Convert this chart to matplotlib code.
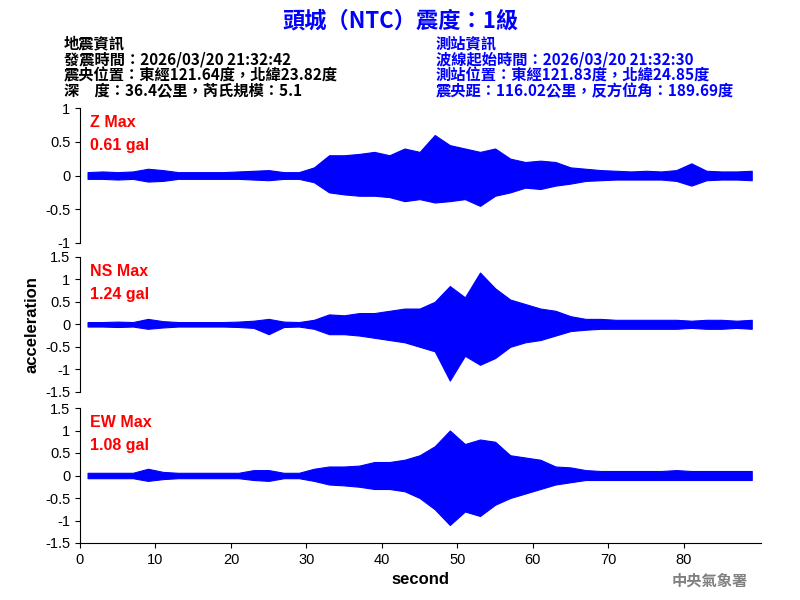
import numpy as np
import matplotlib.pyplot as plt

plt.rcParams['font.family'] = ['Noto Sans CJK TC', 'DejaVu Sans']

# 2-second bins, envelope (gal), value at the bin centre
t_bins = np.arange(1, 90, 2)
z_up = [0.05, 0.06, 0.05, 0.06, 0.10, 0.08, 0.05, 0.05, 0.05, 0.05, 0.06, 0.07, 0.08, 0.05, 0.05,
        0.12, 0.30, 0.30, 0.32, 0.35, 0.30, 0.40, 0.35, 0.60, 0.45, 0.40, 0.35, 0.40, 0.25, 0.20,
        0.22, 0.20, 0.12, 0.10, 0.08, 0.07, 0.06, 0.07, 0.06, 0.08, 0.18, 0.07, 0.06, 0.06, 0.07]
z_lo = [-0.05, -0.05, -0.06, -0.05, -0.09, -0.08, -0.05, -0.05, -0.05, -0.05, -0.05, -0.06, -0.07, -0.05, -0.05,
        -0.10, -0.25, -0.28, -0.30, -0.30, -0.32, -0.38, -0.35, -0.40, -0.38, -0.35, -0.45, -0.30, -0.25, -0.18,
        -0.20, -0.15, -0.12, -0.08, -0.07, -0.06, -0.06, -0.06, -0.06, -0.08, -0.15, -0.07, -0.06, -0.06, -0.07]
ns_up = [0.05, 0.05, 0.06, 0.05, 0.12, 0.07, 0.05, 0.05, 0.05, 0.05, 0.06, 0.08, 0.12, 0.06, 0.05,
         0.10, 0.22, 0.20, 0.25, 0.25, 0.30, 0.35, 0.35, 0.50, 0.85, 0.60, 1.15, 0.80, 0.55, 0.45,
         0.35, 0.30, 0.18, 0.12, 0.12, 0.10, 0.10, 0.10, 0.10, 0.10, 0.08, 0.10, 0.10, 0.08, 0.10]
ns_lo = [-0.05, -0.05, -0.06, -0.05, -0.10, -0.07, -0.05, -0.05, -0.05, -0.05, -0.06, -0.08, -0.22, -0.06, -0.05,
         -0.10, -0.22, -0.22, -0.25, -0.30, -0.35, -0.40, -0.50, -0.60, -1.25, -0.70, -0.90, -0.75, -0.50, -0.40,
         -0.35, -0.25, -0.15, -0.12, -0.10, -0.10, -0.10, -0.10, -0.10, -0.10, -0.08, -0.10, -0.10, -0.08, -0.10]
ew_up = [0.06, 0.06, 0.06, 0.06, 0.15, 0.08, 0.06, 0.06, 0.06, 0.06, 0.06, 0.12, 0.12, 0.06, 0.06,
         0.15, 0.20, 0.20, 0.22, 0.30, 0.30, 0.35, 0.45, 0.65, 1.00, 0.70, 0.80, 0.75, 0.45, 0.40,
         0.35, 0.20, 0.18, 0.12, 0.10, 0.10, 0.10, 0.10, 0.10, 0.12, 0.10, 0.10, 0.10, 0.10, 0.10]
ew_lo = [-0.06, -0.06, -0.06, -0.06, -0.12, -0.08, -0.06, -0.06, -0.06, -0.06, -0.06, -0.10, -0.12, -0.06, -0.06,
         -0.12, -0.20, -0.22, -0.25, -0.30, -0.30, -0.35, -0.50, -0.75, -1.10, -0.80, -0.90, -0.65, -0.50, -0.40,
         -0.30, -0.20, -0.15, -0.10, -0.10, -0.10, -0.10, -0.10, -0.10, -0.10, -0.10, -0.10, -0.10, -0.10, -0.10]

panels = [("Z Max", "0.61 gal", z_up, z_lo, 1, [-1, -0.5, 0, 0.5, 1]),
          ("NS Max", "1.24 gal", ns_up, ns_lo, 1.5, [-1.5, -1, -0.5, 0, 0.5, 1, 1.5]),
          ("EW Max", "1.08 gal", ew_up, ew_lo, 1.5, [-1.5, -1, -0.5, 0, 0.5, 1, 1.5])]
boxes = [0.595, 0.347, 0.095]
lat = 'Liberation Sans'

fig = plt.figure(figsize=(8, 6), dpi=100)
for i, (name, val, up, lo, lim, ticks) in enumerate(panels):
    ax = fig.add_axes([0.1, boxes[i], 0.851, 0.225])
    ax.fill_between(t_bins, up, lo, color='blue', linewidth=0.8, edgecolor='blue')
    ax.set_xlim(0, 90.2)
    ax.set_ylim(-lim, lim)
    ax.set_yticks(ticks)
    ax.set_yticklabels([f"{v:g}" for v in ticks], fontsize=10.5, family=lat)
    ax.spines[['top', 'right']].set_visible(False)
    ax.text(0.015, 0.95, name, transform=ax.transAxes, color='red', fontsize=11.5,
            family=lat, fontweight='bold', va='top')
    ax.text(0.015, 0.78, val, transform=ax.transAxes, color='red', fontsize=11.5,
            family=lat, fontweight='bold', va='top')
    if i < 2:
        ax.spines['bottom'].set_visible(False)
        ax.set_xticks([])
    else:
        ax.set_xticks(range(0, 90, 10))
        ax.set_xticklabels([str(v) for v in range(0, 90, 10)], fontsize=10.5, family=lat)
        ax.set_xlabel("second", fontsize=12, family=lat, fontweight='bold')
    if i == 1:
        ax.set_ylabel("acceleration", fontsize=12, family=lat, fontweight='bold')

fig.text(0.5, 0.965, "頭城（NTC）震度：1級", ha='center', va='center', color='blue',
         fontsize=16, fontweight='bold')
left = ["地震資訊", "發震時間：2026/03/20 21:32:42",
        "震央位置：東經121.64度，北緯23.82度", "深　度：36.4公里，芮氏規模：5.1"]
right = ["測站資訊", "波線起始時間：2026/03/20 21:32:30",
         "測站位置：東經121.83度，北緯24.85度", "震央距：116.02公里，反方位角：189.69度"]
for k in range(4):
    fig.text(0.08, 0.927 - k * 0.0265, left[k], fontsize=11, va='center', color='black',
             fontweight='bold')
    fig.text(0.545, 0.927 - k * 0.0265, right[k], fontsize=11, va='center', color='blue',
             fontweight='bold')
fig.text(0.935, 0.032, "中央氣象署", ha='right', va='center', color='gray', fontsize=11,
         fontweight='bold')
fig.savefig("out.png")
